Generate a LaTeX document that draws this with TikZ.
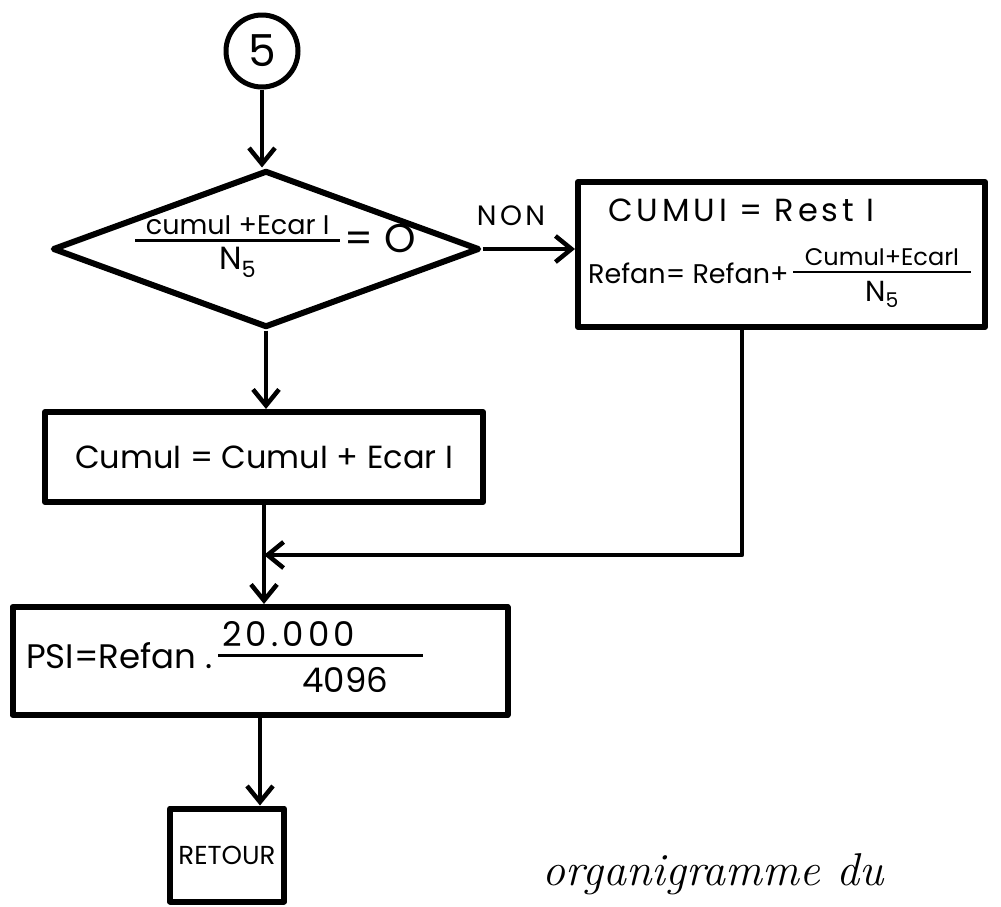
\documentclass[tikz,border=0pt]{standalone}
\usepackage{fontspec}
\newfontfamily\hand{Poppins}
\newfontfamily\handw[LetterSpace=12]{Poppins}
\usetikzlibrary{arrows.meta,shapes.geometric,calc}
\newcommand{\hfr}[3]{$\vcenter{\hbox{\begin{tabular}{@{}c@{}}\makebox[#1]{#2}\\[-4pt]\noalign{\hrule height 2.5pt}\rule{0pt}{1.05em}#3\end{tabular}}}$}
\begin{document}
\begin{tikzpicture}[x=1pt,y=-1pt,line join=round,
  box/.style={draw,rectangle,line width=6pt,inner sep=0pt},
  flow/.style={line width=4.5pt,-{Straight Barb[length=16pt,width=26pt,line width=4.5pt]}},
  lbl/.style={inner sep=0pt,font=\hand\fontsize{28}{32}\selectfont}]
\useasboundingbox (0,0) rectangle (1001,907);
\fill[white] (0,0) rectangle (1001,907);
% nodes
\node[draw,circle,line width=5pt,minimum size=72pt,inner sep=0pt,font=\hand\fontsize{44}{48}\selectfont] (c5) at (262,51) {5};
\node[draw,diamond,line width=6pt,minimum width=427pt,minimum height=157pt,inner sep=0pt] (dec) at (266,249) {};
\node[lbl,font=\hand\fontsize{27}{30}\selectfont,anchor=west] (dectxt) at (135,246) {\hfr{205pt}{cumuI +Ecar I}{\fontsize{32}{34}\selectfont N\textsubscript{5}}\,{\fontsize{40}{42}\selectfont= O}};
\node[box,minimum width=407pt,minimum height=145pt] (R) at (781.5,254.5) {};
\node[lbl,font=\handw\fontsize{32}{36}\selectfont,anchor=west] (r1) at (608,210) {CUMUI = Rest I};
\node[lbl,font=\hand\fontsize{27}{32}\selectfont,anchor=west] (r2) at (588,277) {Refan= Refan+\,\hfr{178pt}{\fontsize{24}{28}\selectfont CumuI+EcarI}{\fontsize{29}{32}\selectfont N\textsubscript{5}}};
\node[box,minimum width=438pt,minimum height=90pt,font=\hand\fontsize{32}{38}\selectfont] (B) at (264,457) {CumuI = CumuI + Ecar I};
\node[box,minimum width=495pt,minimum height=108pt] (P) at (260,661) {};
\node[lbl,font=\hand\fontsize{34}{38}\selectfont,anchor=west] (ptxt) at (26,662) {PSI=Refan .\,\hfr{205pt}{\hspace*{4pt}{\handw 20.000}\hfill}{\makebox[205pt][l]{\hspace*{84pt}4096}}};
\node[box,minimum width=114pt,minimum height=93pt,font=\hand\fontsize{26}{30}\selectfont] (ret) at (227,855) {RETOUR};
\node[lbl,font=\handw\fontsize{28}{30}\selectfont] (non) at (511,216) {NON};
\node[inner sep=0pt,font=\fontsize{46}{50}\selectfont\itshape,anchor=base] (org) at (713,885) {organigramme du};
% connectors
\coordinate (rc) at (742,555);
\coordinate (jn) at (B.south |- rc);
\draw[flow] (c5.south) -- (c5.south |- dec.north);
\draw[flow] (dec.east) -- (dec.east -| R.west);
\draw[flow] (dec.south) -- (dec.south |- B.north);
\draw[flow] (B.south) -- (B.south |- P.north);
\draw[flow] (R.south -| rc) -- (rc) -- (jn);
\draw[flow] (P.south) -- (P.south |- ret.north);
\end{tikzpicture}
\end{document}
